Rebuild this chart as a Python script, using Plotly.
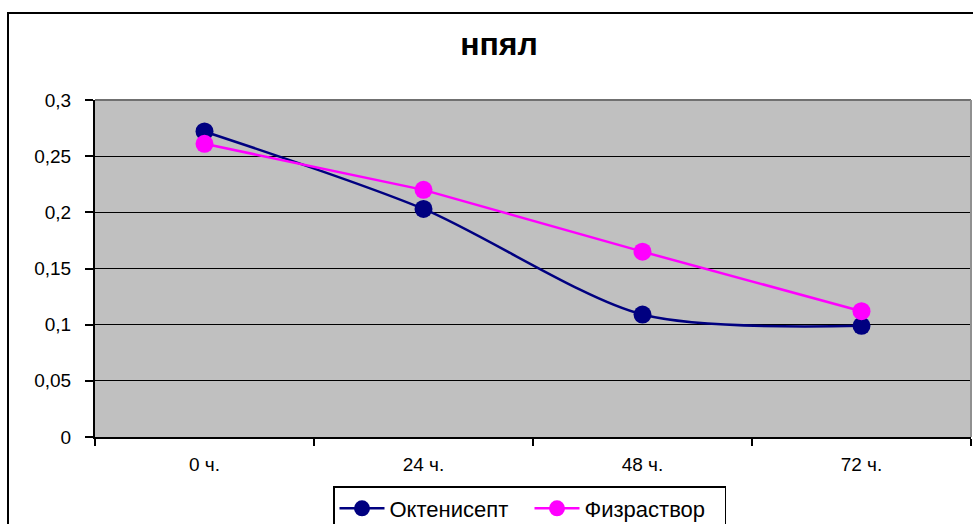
import plotly.graph_objects as go

categories = ["0 ч.", "24 ч.", "48 ч.", "72 ч."]
oktenisept = [0.272, 0.203, 0.109, 0.099]
fizrastvor = [0.261, 0.220, 0.165, 0.112]
series_names = ["Октенисепт", "Физраствор"]
title_text = "нпял"

FONT = "Liberation Sans, Arial, sans-serif"

fig = go.Figure()
fig.add_trace(go.Scatter(
    x=categories, y=oktenisept, name=series_names[0],
    mode="lines+markers",
    line=dict(color="#000080", width=2.5, shape="spline", smoothing=0.8),
    marker=dict(color="#000080", size=18),
))
fig.add_trace(go.Scatter(
    x=categories, y=fizrastvor, name=series_names[1],
    mode="lines+markers",
    line=dict(color="#FF00FF", width=2.5),
    marker=dict(color="#FF00FF", size=18),
))

fig.update_layout(
    width=973, height=524,
    margin=dict(l=95, r=2, t=100, b=87, autoexpand=False),
    paper_bgcolor="white",
    plot_bgcolor="#C0C0C0",
    separators=", ",
    font=dict(family=FONT, size=19, color="black"),
    title=dict(text="<b>" + title_text + "</b>", x=499 / 973, xanchor="center",
               y=1 - 44 / 524, yanchor="middle", yref="container",
               font=dict(family=FONT, size=32, color="black")),
    showlegend=True,
    legend=dict(orientation="h", x=333 / 973, xanchor="left", xref="container",
                y=1 - 486 / 524, yanchor="top", yref="container",
                bgcolor="white", bordercolor="black", borderwidth=1.5,
                font=dict(family=FONT, size=22, color="black"),
                itemwidth=45, tracegroupgap=0,
                entrywidth=135, entrywidthmode="pixels"),
    xaxis=dict(type="category", range=[-0.5, 3.5], tickson="boundaries",
               ticks="outside", ticklen=7, tickcolor="black", tickwidth=1.5,
               ticklabelstandoff=9,
               showline=True, linecolor="black", linewidth=2,
               showgrid=False, zeroline=False, fixedrange=True,
               tickfont=dict(family=FONT, size=19)),
    yaxis=dict(range=[0, 0.3], dtick=0.05, tick0=0,
               ticks="outside", ticklen=8, tickcolor="black", tickwidth=1.5,
               ticklabelstandoff=10,
               showline=True, linecolor="black", linewidth=2,
               showgrid=True, gridcolor="black", gridwidth=1.2,
               zeroline=False, fixedrange=True,
               tickfont=dict(family=FONT, size=19)),
)

# plot-area border (top & right, gray)
fig.add_shape(type="line", xref="paper", yref="paper", x0=0, x1=1, y0=1, y1=1,
              line=dict(color="#707070", width=2), layer="above")
fig.add_shape(type="line", xref="paper", yref="paper", x0=1, x1=1, y0=0, y1=1,
              line=dict(color="#909090", width=2), layer="above")
# chart outer border
fig.add_shape(type="rect", xref="paper", yref="paper",
              x0=(8 - 95) / 876, x1=(995 - 95) / 876,
              y0=(437 - 540) / 337, y1=(437 - 13) / 337,
              line=dict(color="black", width=2), layer="above")

fig.write_html("out.html")
